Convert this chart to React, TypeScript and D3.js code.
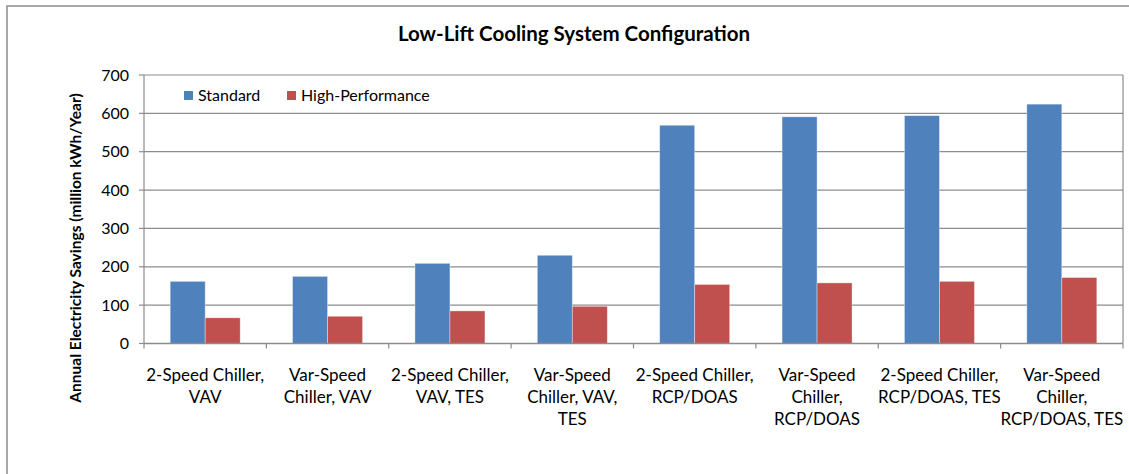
import React from "react";
import * as d3 from "d3";

const categories: string[][] = [
  ["2-Speed Chiller,", "VAV"],
  ["Var-Speed", "Chiller, VAV"],
  ["2-Speed Chiller,", "VAV, TES"],
  ["Var-Speed", "Chiller, VAV,", "TES"],
  ["2-Speed Chiller,", "RCP/DOAS"],
  ["Var-Speed", "Chiller,", "RCP/DOAS"],
  ["2-Speed Chiller,", "RCP/DOAS, TES"],
  ["Var-Speed", "Chiller,", "RCP/DOAS, TES"],
];
const standard = [162, 175, 209, 230, 569, 591, 594, 624];
const highPerf = [67, 71, 85, 97, 154, 158, 162, 172];
const seriesNames = ["Standard", "High-Performance"];
const yTicks = [0, 100, 200, 300, 400, 500, 600, 700];

const W = 1129;
const H = 474;
const FONT = "Lato, 'Open Sans', sans-serif";
const COLORS = ["#4F81BD", "#C0504D"];

export default function App() {
  const left = 144;
  const right = 1123;
  const top = 75;
  const bottom = 343.5;
  const ids = categories.map((_, i) => String(i));
  const x = d3.scaleBand<string>().domain(ids).range([left, right]).paddingInner(0.428).paddingOuter(0.214);
  const xs = d3.scaleBand<string>().domain(["0", "1"]).range([0, x.bandwidth()]);
  const y = d3.scaleLinear().domain([0, 700]).range([bottom, top]);
  const step = (right - left) / categories.length;
  const series = [standard, highPerf];

  return (
    <svg width={W} height={H} style={{ display: "block", position: "absolute", left: 0, top: 0 }}>
      <rect x={0} y={0} width={W} height={H} fill="#fff" />
      <rect x={7} y={6} width={W + 20} height={H + 20} fill="none" stroke="#8c8c8c" strokeWidth={1.5} />
      <text x={574} y={41} textAnchor="middle" fontFamily={FONT} fontWeight="bold" fontSize={20.5} fill="#000">
        Low-Lift Cooling System Configuration
      </text>
      {yTicks.map((t) => (
        <g key={t}>
          {t > 0 && <line x1={left} x2={right} y1={y(t)} y2={y(t)} stroke="#8c8c8c" strokeWidth={1.2} />}
          <line x1={left - 5} x2={left} y1={y(t)} y2={y(t)} stroke="#8c8c8c" strokeWidth={1.2} />
          <text x={129} y={y(t) + 5.5} textAnchor="end" fontFamily={FONT} fontSize={16} fill="#000">
            {t}
          </text>
        </g>
      ))}
      <line x1={right} x2={right} y1={top} y2={bottom} stroke="#8c8c8c" strokeWidth={1.2} />
      {series.map((vals, s) =>
        vals.map((v, i) => (
          <rect
            key={`${s}-${i}`}
            x={(x(String(i)) as number) + (xs(String(s)) as number)}
            y={y(v)}
            width={xs.bandwidth()}
            height={y(0) - y(v)}
            fill={COLORS[s]}
            stroke="rgba(255,255,255,0.45)"
            strokeWidth={0.8}
          />
        ))
      )}
      <line x1={left} x2={left} y1={top} y2={bottom} stroke="#8c8c8c" strokeWidth={1.2} />
      <line x1={left} x2={right} y1={bottom} y2={bottom} stroke="#8c8c8c" strokeWidth={1.4} />
      {d3.range(categories.length + 1).map((i) => (
        <line key={i} x1={left + i * step} x2={left + i * step} y1={bottom} y2={bottom + 5} stroke="#8c8c8c" strokeWidth={1.2} />
      ))}
      {categories.map((lines, i) => (
        <text key={i} textAnchor="middle" fontFamily={FONT} fontSize={17} fill="#000">
          {lines.map((l, j) => (
            <tspan key={j} x={left + (i + 0.5) * step} y={381 + j * 22}>
              {l}
            </tspan>
          ))}
        </text>
      ))}
      <text
        transform={`translate(81,248) rotate(-90)`}
        textAnchor="middle"
        fontFamily={FONT}
        fontWeight="bold"
        fontSize={15.5}
        fill="#000"
      >
        Annual Electricity Savings (million kWh/Year)
      </text>
      {seriesNames.map((n, s) => (
        <g key={n} transform={`translate(${[184, 287][s]},91)`}>
          <rect x={0} y={0} width={9} height={9} fill={COLORS[s]} />
          <text x={14} y={9.5} fontFamily={FONT} fontSize={16} fill="#000">
            {n}
          </text>
        </g>
      ))}
    </svg>
  );
}
